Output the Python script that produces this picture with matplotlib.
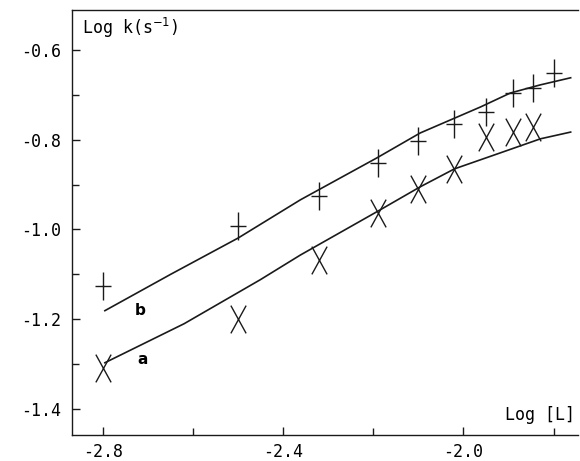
import numpy as np
import matplotlib
matplotlib.use("Agg")
import matplotlib.pyplot as plt
from matplotlib.path import Path

# measured points, series b (+) and a (X)
b_x = [-2.80, -2.50, -2.32, -2.19, -2.10, -2.02, -1.95, -1.89, -1.845, -1.80]
b_y = [-1.127, -0.992, -0.925, -0.852, -0.803, -0.765, -0.738, -0.696, -0.685, -0.651]
a_x = [-2.80, -2.50, -2.32, -2.19, -2.10, -2.02, -1.95, -1.89, -1.845]
a_y = [-1.308, -1.199, -1.068, -0.963, -0.910, -0.865, -0.794, -0.783, -0.771]

# fitted curves
fit_b_x = [-2.796, -2.65, -2.50, -2.362, -2.193, -2.096, -1.962, -1.896, -1.83, -1.762]
fit_b_y = [-1.181, -1.100, -1.019, -0.934, -0.841, -0.785, -0.727, -0.696, -0.678, -0.662]
fit_a_x = [-2.796, -2.62, -2.451, -2.362, -2.193, -2.096, -2.02, -1.92, -1.829, -1.762]
fit_a_y = [-1.297, -1.210, -1.112, -1.057, -0.961, -0.905, -0.865, -0.830, -0.798, -0.783]

xticks = [-2.8, -2.4, -2.0]
xtick_labels = ["-2.8", "-2.4", "-2.0"]
yticks = [-1.4, -1.2, -1.0, -0.8, -0.6]
ytick_labels = ["-1.4", "-1.2", "-1.0", "-0.8", "-0.6"]

# tall plus and tall cross markers
plus_m = Path([(0, -1), (0, 1), (-0.55, 0), (0.55, 0)],
              [Path.MOVETO, Path.LINETO, Path.MOVETO, Path.LINETO])
cross_m = Path([(-0.55, -1), (0.55, 1), (0.55, -1), (-0.55, 1)],
               [Path.MOVETO, Path.LINETO, Path.MOVETO, Path.LINETO])

mono = "DejaVu Sans Mono"
ink = "#1a1a1a"

fig = plt.figure(figsize=(5.8, 4.61), dpi=100)
ax = fig.add_axes([0.1241, 0.0564, 0.873, 0.9219])

ax.plot(fit_b_x, fit_b_y, color=ink, lw=1.2)
ax.plot(fit_a_x, fit_a_y, color=ink, lw=1.2)
ax.plot(b_x, b_y, ls="none", marker=plus_m, ms=20, mec=ink, mew=1.0)
ax.plot(a_x, a_y, ls="none", marker=cross_m, ms=20, mec=ink, mew=1.0)

ax.text(-2.718, -1.181, "b", fontsize=11, fontweight="bold", ha="center", va="center")
ax.text(-2.713, -1.290, "a", fontsize=11, fontweight="bold", ha="center", va="center")

ax.set_xlim(-2.869, -1.745)
ax.set_ylim(-1.458, -0.511)

ax.set_xticks(xticks)
ax.set_xticklabels(xtick_labels, family=mono, fontsize=12)
ax.set_xticks([-2.6, -2.2, -1.8], minor=True)
ax.set_yticks(yticks)
ax.set_yticklabels(ytick_labels, family=mono, fontsize=12)
ax.set_yticks([-1.3, -1.1, -0.9, -0.7], minor=True)

ax.tick_params(which="both", direction="in", color=ink, width=1.0)
ax.tick_params(which="major", length=6)
ax.tick_params(which="minor", length=5)
ax.tick_params(axis="y", which="both", pad=8)
ax.tick_params(axis="x", which="both", pad=6)

ax.spines["right"].set_visible(False)
for s in ["left", "top", "bottom"]:
    ax.spines[s].set_color(ink)
    ax.spines[s].set_linewidth(1.0)

ax.text(0.02, 0.985, r"Log k(s$^{-1}$)", transform=ax.transAxes, family=mono,
        fontsize=12, ha="left", va="top")
ax.text(0.993, 0.047, "Log [L]", transform=ax.transAxes, family=mono,
        fontsize=12, ha="right", va="center")

fig.savefig("out.png", dpi=100)
